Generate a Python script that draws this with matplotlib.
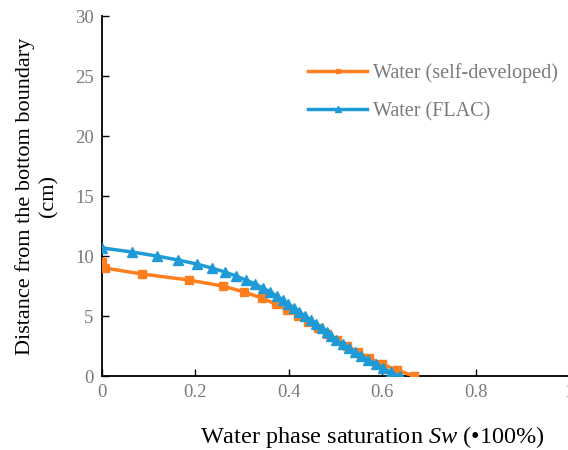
import matplotlib
matplotlib.use('Agg')
import matplotlib.pyplot as plt

# Water (self-developed) - saturation vs distance
sw_self = [0.0, 0.006, 0.086, 0.186, 0.258, 0.305, 0.342, 0.372, 0.397, 0.420,
           0.442, 0.463, 0.482, 0.503, 0.524, 0.548, 0.572, 0.599, 0.631, 0.667]
dist_self = [9.5, 9.0, 8.5, 8.0, 7.5, 7.0, 6.5, 6.0, 5.5, 5.0,
             4.5, 4.0, 3.5, 3.0, 2.5, 2.0, 1.5, 1.0, 0.5, 0.0]

# Water (FLAC)
sw_flac = [0.001, 0.065, 0.117, 0.163, 0.203, 0.235, 0.263, 0.287, 0.308, 0.328,
           0.344, 0.360, 0.374, 0.387, 0.399, 0.411, 0.422, 0.435, 0.447, 0.458,
           0.470, 0.482, 0.491, 0.501, 0.515, 0.528, 0.542, 0.555, 0.570, 0.587,
           0.601, 0.618, 0.638]
dist_flac = [10.67, 10.33, 10.0, 9.67, 9.33, 9.0, 8.67, 8.33, 8.0, 7.67,
             7.33, 7.0, 6.67, 6.33, 6.0, 5.67, 5.33, 5.0, 4.67, 4.33,
             4.0, 3.67, 3.33, 3.0, 2.67, 2.33, 2.0, 1.67, 1.33, 1.0,
             0.67, 0.33, 0.0]

x_ticks = [0, 0.2, 0.4, 0.6, 0.8, 1]
x_tick_labels = ['0', '0.2', '0.4', '0.6', '0.8', '1']
y_ticks = [0, 5, 10, 15, 20, 25, 30]

plt.rcParams['font.family'] = ['Liberation Serif', 'DejaVu Serif']
plt.rcParams['mathtext.fontset'] = 'custom'
plt.rcParams['mathtext.it'] = 'Liberation Serif:italic'
plt.rcParams['mathtext.rm'] = 'Liberation Serif'

fig = plt.figure(figsize=(5.68, 4.50), dpi=100)
ax = fig.add_axes([0.1796, 0.1644, 0.8224, 0.80])

orange = '#FF7F1E'
blue = '#1E9BD7'
gray = '#7A7A7A'

ax.plot(sw_self, dist_self, color=orange, lw=2.5, marker='s', ms=5.5,
        label='Water (self-developed)', zorder=3)
ax.plot(sw_flac, dist_flac, color=blue, lw=2.5, marker='^', ms=6.5,
        label='Water (FLAC)', zorder=4)

ax.set_xlim(0, 1)
ax.set_ylim(0, 30)
ax.set_xticks(x_ticks)
ax.set_xticklabels(x_tick_labels)
ax.set_yticks(y_ticks)
ax.tick_params(direction='in', length=5, width=1, colors='black',
               labelcolor=gray, labelsize=13.5, pad=6)

for s in ['top', 'right']:
    ax.spines[s].set_visible(False)
for s in ['left', 'bottom']:
    ax.spines[s].set_linewidth(1.3)
    ax.spines[s].set_color('black')

ax.set_xlabel('Water phase saturation $Sw$ (•100%)', fontsize=17.5)
ax.xaxis.set_label_coords(0.578, -0.133)
ax.set_ylabel('Distance from the bottom boundary\n(cm)', fontsize=16, labelpad=12,
              linespacing=1.25)

leg = ax.legend(loc='upper left', bbox_to_anchor=(0.403, 0.92), frameon=False,
                fontsize=14.5, handlelength=2.9, handletextpad=0.3,
                labelspacing=0.95, markerscale=0.6)
for t in leg.get_texts():
    t.set_color(gray)

fig.savefig('out.png', dpi=100)
